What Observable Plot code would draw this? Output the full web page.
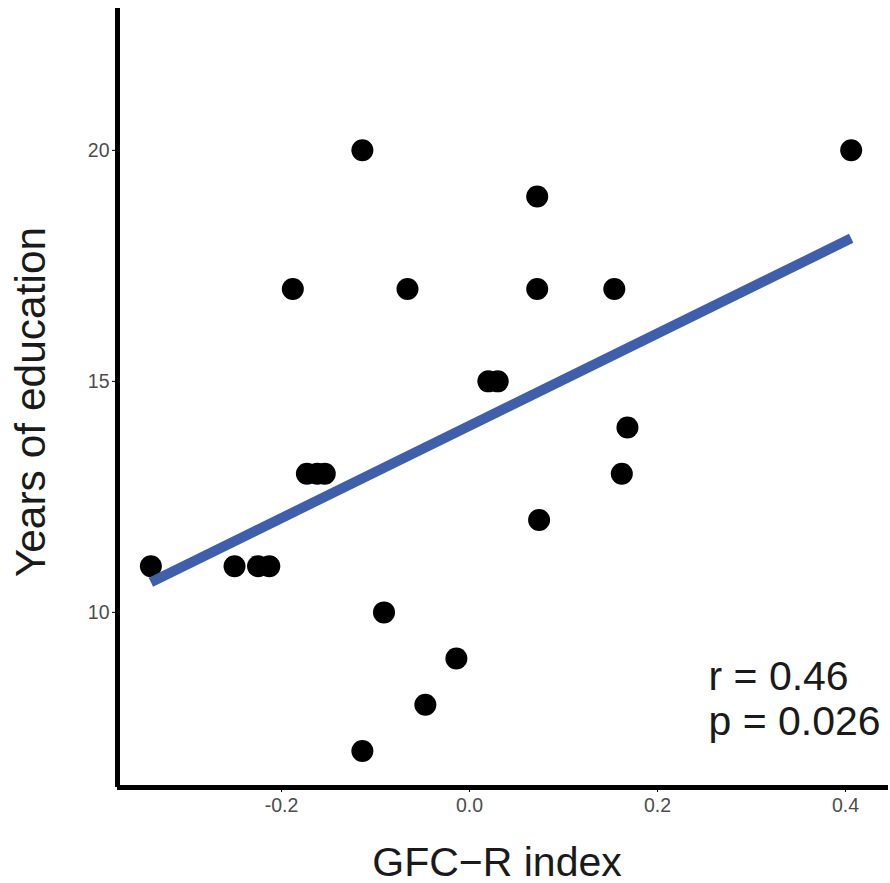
<!DOCTYPE html>
<html>
<head>
<meta charset="utf-8">
<script src="https://cdn.jsdelivr.net/npm/d3@7"></script>
<script src="https://cdn.jsdelivr.net/npm/@observablehq/plot@0.6"></script>
<style>
  html, body { margin: 0; padding: 0; background: #ffffff; }
  #chart { width: 890px; height: 883px; }
</style>
</head>
<body>
<div id="chart"></div>
<script>
// GFC-R index (x) and years of education (y)
const gfcR = [-0.339, -0.250, -0.225, -0.213, -0.188, -0.114, -0.173, -0.162, -0.154,
              0.020, 0.030, -0.091, -0.014, -0.047, -0.114, -0.066,
              0.072, 0.072, 0.074, 0.154, 0.168, 0.162, 0.406];
const education = [11, 11, 11, 11, 17, 20, 13, 13, 13,
                   15, 15, 10, 9, 8, 7, 17,
                   19, 17, 12, 17, 14, 13, 20];
const xTicks = [-0.2, 0.0, 0.2, 0.4];
const xTickLabels = ["-0.2", "0.0", "0.2", "0.4"];
const yTicks = [10, 15, 20];
const yTickLabels = ["10", "15", "20"];
const xTitle = "GFC\u2212R index";
const yTitle = "Years of education";
const statLabels = ["r = 0.46", "p = 0.026"];

const data = gfcR.map((x, i) => ({x, y: education[i]}));
const xDomain = [-0.3745, 0.4457];
const yDomain = [6.21, 23.07];
const font = "'Liberation Sans', Arial, Helvetica, sans-serif";

const chart = Plot.plot({
  width: 890,
  height: 883,
  marginLeft: 117,
  marginRight: 2,
  marginTop: 8,
  marginBottom: 96,
  style: {fontFamily: font, background: "#ffffff"},
  x: {domain: xDomain},
  y: {domain: yDomain},
  marks: [
    Plot.axisX({ticks: xTicks, tickFormat: (d) => xTickLabels[xTicks.indexOf(d)],
      tickSize: 5, tickPadding: 6, fontSize: 19.5, color: "#4d4d4d", stroke: "#000", label: null}),
    Plot.axisY({ticks: yTicks, tickFormat: (d) => yTickLabels[yTicks.indexOf(d)],
      tickSize: 5, tickPadding: 3, fontSize: 19.5, color: "#4d4d4d", stroke: "#000", label: null}),
    Plot.dot(data, {x: "x", y: "y", r: 11, fill: "#000000", stroke: "none"}),
    Plot.linearRegressionY(data, {x: "x", y: "y", ci: 0, stroke: "#3f5fab",
      strokeWidth: 10, strokeLinecap: "butt"}),
    Plot.ruleX([xDomain[0]], {stroke: "#000", strokeWidth: 5}),
    Plot.ruleY([yDomain[0]], {stroke: "#000", strokeWidth: 5}),
    Plot.text([xTitle], {frameAnchor: "bottom", textAnchor: "middle", lineAnchor: "bottom",
      dx: -6, dy: 88, fontSize: 41, fill: "#1a1a1a"}),
    Plot.text([yTitle], {frameAnchor: "left", textAnchor: "middle", lineAnchor: "bottom",
      rotate: -90, dx: -73, dy: 4, fontSize: 42.5, fill: "#1a1a1a"}),
    Plot.text([statLabels.join("\n")], {frameAnchor: "bottom-right", textAnchor: "start",
      lineAnchor: "bottom", lineHeight: 1.08, dx: -180, dy: -53, fontSize: 41, fill: "#1a1a1a"})
  ]
});
document.getElementById("chart").appendChild(chart);
</script>
</body>
</html>
